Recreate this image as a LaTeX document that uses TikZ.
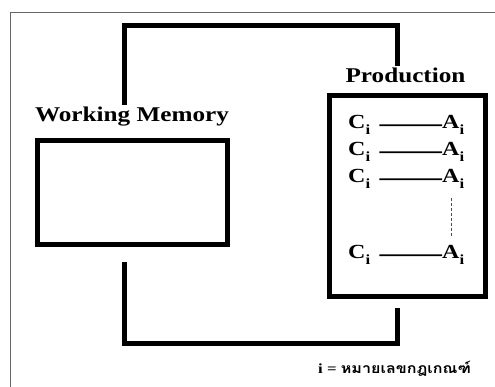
\documentclass[tikz,border=0pt]{standalone}
\usepackage{fontspec}
\setmainfont{Liberation Serif}[FakeStretch=1.2]
\newfontfamily\thaifont[Script=Thai,FakeStretch=1.15]{Loma}
\usetikzlibrary{shadows}
\tikzset{
  lbl/.style={font=\fontsize{21}{24}\selectfont\bfseries, inner sep=0pt, anchor=base},
  blk/.style={draw, line width=5pt, fill=white,
    drop shadow={shadow xshift=2pt, shadow yshift=-2pt, fill=black!30, opacity=0.6}},
  conn/.style={line width=5pt},
  rulec/.style={font=\fontsize{20}{22}\selectfont\bfseries, inner sep=0pt, anchor=base west},
  ruleline/.style={line width=1.8pt},
  frame/.style={draw=black!60, line width=1pt},
}
\newcommand{\sub}{\raisebox{-0.28em}{\fontsize{14}{15}\selectfont i}}
\begin{document}
\begin{tikzpicture}[x=1pt,y=-1pt]
\useasboundingbox (0,0) rectangle (495,387);
\draw[frame] (10,387) -- (10,13) -- (495,13);

% labels
\node[lbl] (wml) at (132,122) {Working Memory};
\node[lbl] (pl) at (405.5,83) {Production};

% boxes
\node[blk, minimum width=190pt, minimum height=104pt] (wm) at (132.5,192.5) {};
\node[blk, minimum width=156pt, minimum height=201.5pt] (pb) at (407.5,196) {};

% rules
\node[rulec] (C1) at (348,129) {C\sub};
\node[rulec] (A1) at (442,129) {A\sub};
\node[rulec] (C2) at (348,156) {C\sub};
\node[rulec] (A2) at (442,156) {A\sub};
\node[rulec] (C3) at (348,183) {C\sub};
\node[rulec] (A3) at (442,183) {A\sub};
\node[rulec] (C4) at (348,259) {C\sub};
\node[rulec] (A4) at (442,259) {A\sub};
\foreach \k in {1,2,3,4}{
  \draw[ruleline] ([xshift=9pt]C\k.east) -- (A\k.west);
}
\draw[line width=1.2pt, dash pattern=on 3pt off 2pt, black!70]
  ([xshift=-2pt,yshift=-9pt]A3.south) -- ([xshift=-2pt,yshift=10pt]A4.north);

% connectors
\coordinate (t1) at (124,105);
\coordinate (t2) at (397,26);
\coordinate (t3) at (397,66);
\draw[conn] (t1) |- (t2) -- (t3);
\coordinate (b1) at (124,262);
\coordinate (b2) at (124,343);
\coordinate (b3) at (397,308);
\draw[conn] (b1) -- (b2) -| (b3);

% legend
\node[inner sep=0pt, anchor=base west] (leg) at (318,373)
  {\fontsize{14}{16}\selectfont\bfseries i = {\thaifont หมายเลขกฎเกณฑ์}};
\end{tikzpicture}
\end{document}
